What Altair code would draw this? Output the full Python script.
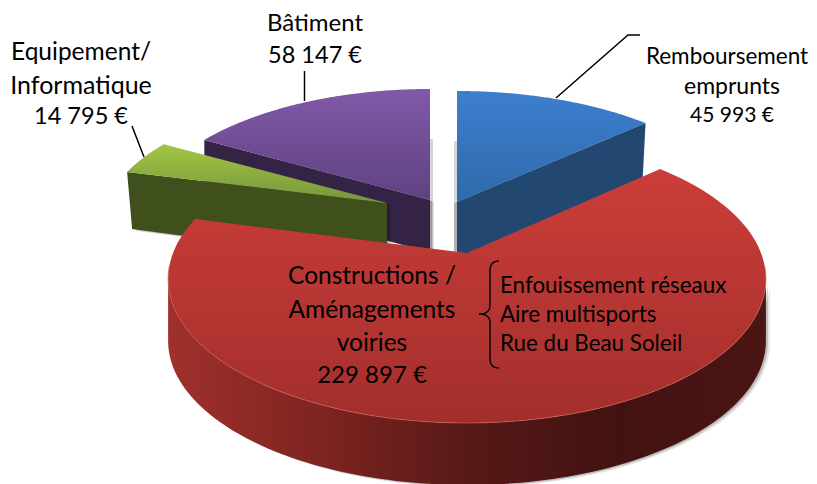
import math
import numpy as np
import altair as alt

# ---- values -------------------------------------------------------------
slice_names = ["Remboursement emprunts", "Constructions / Aménagements voiries",
               "Equipement/ Informatique", "Bâtiment"]
slice_values = [45993, 229897, 14795, 58147]
label_lines = [
    ["Remboursement", "emprunts", "45 993 €"],
    ["Constructions /", "Aménagements", "voiries", "229 897 €"],
    ["Equipement/", "Informatique", "14 795 €"],
    ["Bâtiment", "58 147 €"],
]
detail_lines = ["Enfouissement réseaux", "Aire multisports", "Rue du Beau Soleil"]

# ---- styling / layout (page px, the page margin is removed below) --------
FONT = "Lato"
M = 8
P = 0.18
# apex x, apex y, A, B, wall height at apex, wall height at rim, wall lean at rim
geom = {
    0: (457, 202, 287, 131, 56, 58, -3),
    1: (467, 253, 294, 139.4, 62, 62, 0),
    2: (387, 203, 281, 128, 60, 57, 5),
    3: (430, 200, 284, 131, 52, 52, 0),
}
total = sum(slice_values)
spans = [v / total * 360 for v in slice_values]
starts = [sum(spans[:i]) for i in range(len(spans))]


def pt(i, deg, down=0.0):
    ax, ay, A, B = geom[i][:4]
    t = math.radians(deg)
    X, Z = math.sin(t), math.cos(t)
    s = 1 / (1 + P * Z)
    return [ax + A * X * s - M, ay - B * Z * s + down - M]


def arc(i, a0, a1, down=0.0, n=120):
    return [pt(i, d, down) for d in np.linspace(a0, a1, n)]


def feature(points, closed=True, dx=0, dy=0):
    pts = [[p[0] + dx, p[1] + dy] for p in points]
    if closed:
        geo = {"type": "Polygon", "coordinates": [pts + [pts[0]]]}
    else:
        geo = {"type": "LineString", "coordinates": pts}
    return {"type": "Feature", "properties": {}, "geometry": geo}


def shape(points, closed=True, dx=0, dy=0, **mark):
    return (
        alt.Chart(alt.Data(values=[feature(points, closed, dx, dy)]))
        .mark_geoshape(**mark)
        .project(type="identity", scale=1, translate=[0, 0])
    )


def grad(stops, horizontal=False):
    return alt.Gradient(
        gradient="linear",
        stops=[alt.GradientStop(offset=o, color=c) for o, c in stops],
        x1=0, y1=0, x2=1 if horizontal else 0, y2=0 if horizontal else 1,
    )


def top(i):
    s, e = starts[i], starts[i] + spans[i]
    ax, ay = geom[i][:2]
    return [[ax - M, ay - M]] + arc(i, s, e)


def radial_wall(i, deg):
    ax, ay, _, _, h0, h1, lean = geom[i]
    a = [ax - M, ay - M]
    r = pt(i, deg)
    return [a, r, [r[0] + lean, r[1] + h1], [a[0], a[1] + h0]]


layers = []


def shade(points, sign=1):
    layers.append(shape(points, dx=4 * sign, dy=2, fill="#000000", fillOpacity=0.10, strokeWidth=0))
    layers.append(shape(points, dx=2 * sign, dy=1, fill="#000000", fillOpacity=0.18, strokeWidth=0))


# Bâtiment (purple)
i = 3
shade(radial_wall(i, starts[i]))
layers.append(shape(top(i), dx=3, dy=50, fill="#000000", fillOpacity=0.16, strokeWidth=0))
layers.append(shape(radial_wall(i, starts[i]), fill="#352346", strokeWidth=0))
layers.append(shape(top(i), fill=grad([(0, "#8159A8"), (1, "#5E4282")]), strokeWidth=0))

# Remboursement (blue)
i = 0
blue_wall = radial_wall(i, starts[i] + spans[i])
layers.append(shape(blue_wall, dx=-3, dy=1, fill="#000000", fillOpacity=0.18, strokeWidth=0))
layers.append(shape(top(i), dx=-3, dy=50, fill="#000000", fillOpacity=0.16, strokeWidth=0))
layers.append(shape(blue_wall, fill="#224872", strokeWidth=0))
layers.append(shape(top(i), fill=grad([(0, "#3D7FCF"), (1, "#2F69A9")]), strokeWidth=0))

# Equipement (green)
i = 2
shade(radial_wall(i, starts[i]))
layers.append(shape(radial_wall(i, starts[i]), fill="#40501C", strokeWidth=0))
layers.append(shape(top(i), fill=grad([(0, "#A2C545"), (1, "#76963A")]), strokeWidth=0))

# Constructions (red): the wall runs along the front of the rim, between its widest points
i = 1
s1, e1 = starts[i], starts[i] + spans[i]
sweep = np.linspace(s1, e1, 721)
xs_rim = [pt(i, d)[0] for d in sweep]
a_right, a_left = float(sweep[int(np.argmax(xs_rim))]), float(sweep[int(np.argmin(xs_rim))])
red_wall = arc(i, a_right, a_left) + arc(i, a_right, a_left, down=geom[i][5])[::-1]
shade(red_wall)
layers.append(shape(red_wall, fill=grad([(0, "#A0302C"), (0.25, "#7F2421"), (0.5, "#571917"),
                                         (0.75, "#421211"), (1, "#4A1513")], horizontal=True),
                    strokeWidth=0))
layers.append(shape(top(i), fill=grad([(0, "#CB3D38"), (0.5, "#B73633"), (1, "#A22E2C")]), strokeWidth=0))
layers.append(shape(arc(i, 95, e1 - 20), closed=False, fill="transparent", filled=False,
                    stroke="#CE5C56", strokeWidth=1, strokeOpacity=0.7))

# Leader lines
for line in [
    [[304.5, 71], [304.5, 101]],
    [[132, 126], [144, 157]],
    [[556, 98], [628, 35], [640, 35]],
]:
    layers.append(shape([[x - M, y - M] for x, y in line], closed=False, filled=False,
                        fill="transparent", stroke="#000000", strokeWidth=1.5))


# Brace
def bez(p0, p1, p2, n=12):
    return [[(1 - t) ** 2 * p0[0] + 2 * (1 - t) * t * p1[0] + t ** 2 * p2[0] - M,
             (1 - t) ** 2 * p0[1] + 2 * (1 - t) * t * p1[1] + t ** 2 * p2[1] - M]
            for t in np.linspace(0, 1, n)]


brace = (
    bez((499, 261), (490, 261), (490, 271))
    + bez((490, 305), (490, 314), (479, 314))
    + bez((479, 314), (490, 314), (490, 323))
    + bez((490, 358), (490, 368), (499, 368))
)
layers.append(shape(brace, closed=False, filled=False, fill="transparent",
                    stroke="#000000", strokeWidth=1.4))


# Text
def texts(lines, xs, ys, sizes, align="center"):
    out = []
    for t, x, y, size in zip(lines, xs, ys, sizes):
        out.append(
            alt.Chart(alt.Data(values=[{"t": t, "x": x - M, "y": y - M}]))
            .mark_text(font=FONT, fontSize=size, align=align, baseline="middle", color="#000000")
            .encode(x=alt.X("x:Q", scale=None), y=alt.Y("y:Q", scale=None), text="t:N")
        )
    return out


layers += texts(label_lines[3], [315] * 2, [24, 56], [24, 23.5])
layers += texts(label_lines[2], [81, 81, 81], [53, 86, 117], [24.5, 25, 23.5])
layers += texts(label_lines[0], [727, 732, 732], [57, 87, 116], [22.5, 23, 21])
layers += texts(label_lines[1], [372] * 4, [277, 311, 344, 376], [24.5, 24.5, 24.5, 24])
layers += texts(detail_lines, [500] * 3, [286, 315, 344], [22.4, 22.4, 22.4], align="left")

chart = (
    alt.layer(*layers)
    .properties(width=801, height=476, padding=0, autosize=alt.AutoSizeParams(type="none"),
                background="white")
    .configure_view(stroke=None)
)
chart.save("out.html", embed_options={"renderer": "svg", "actions": False})
